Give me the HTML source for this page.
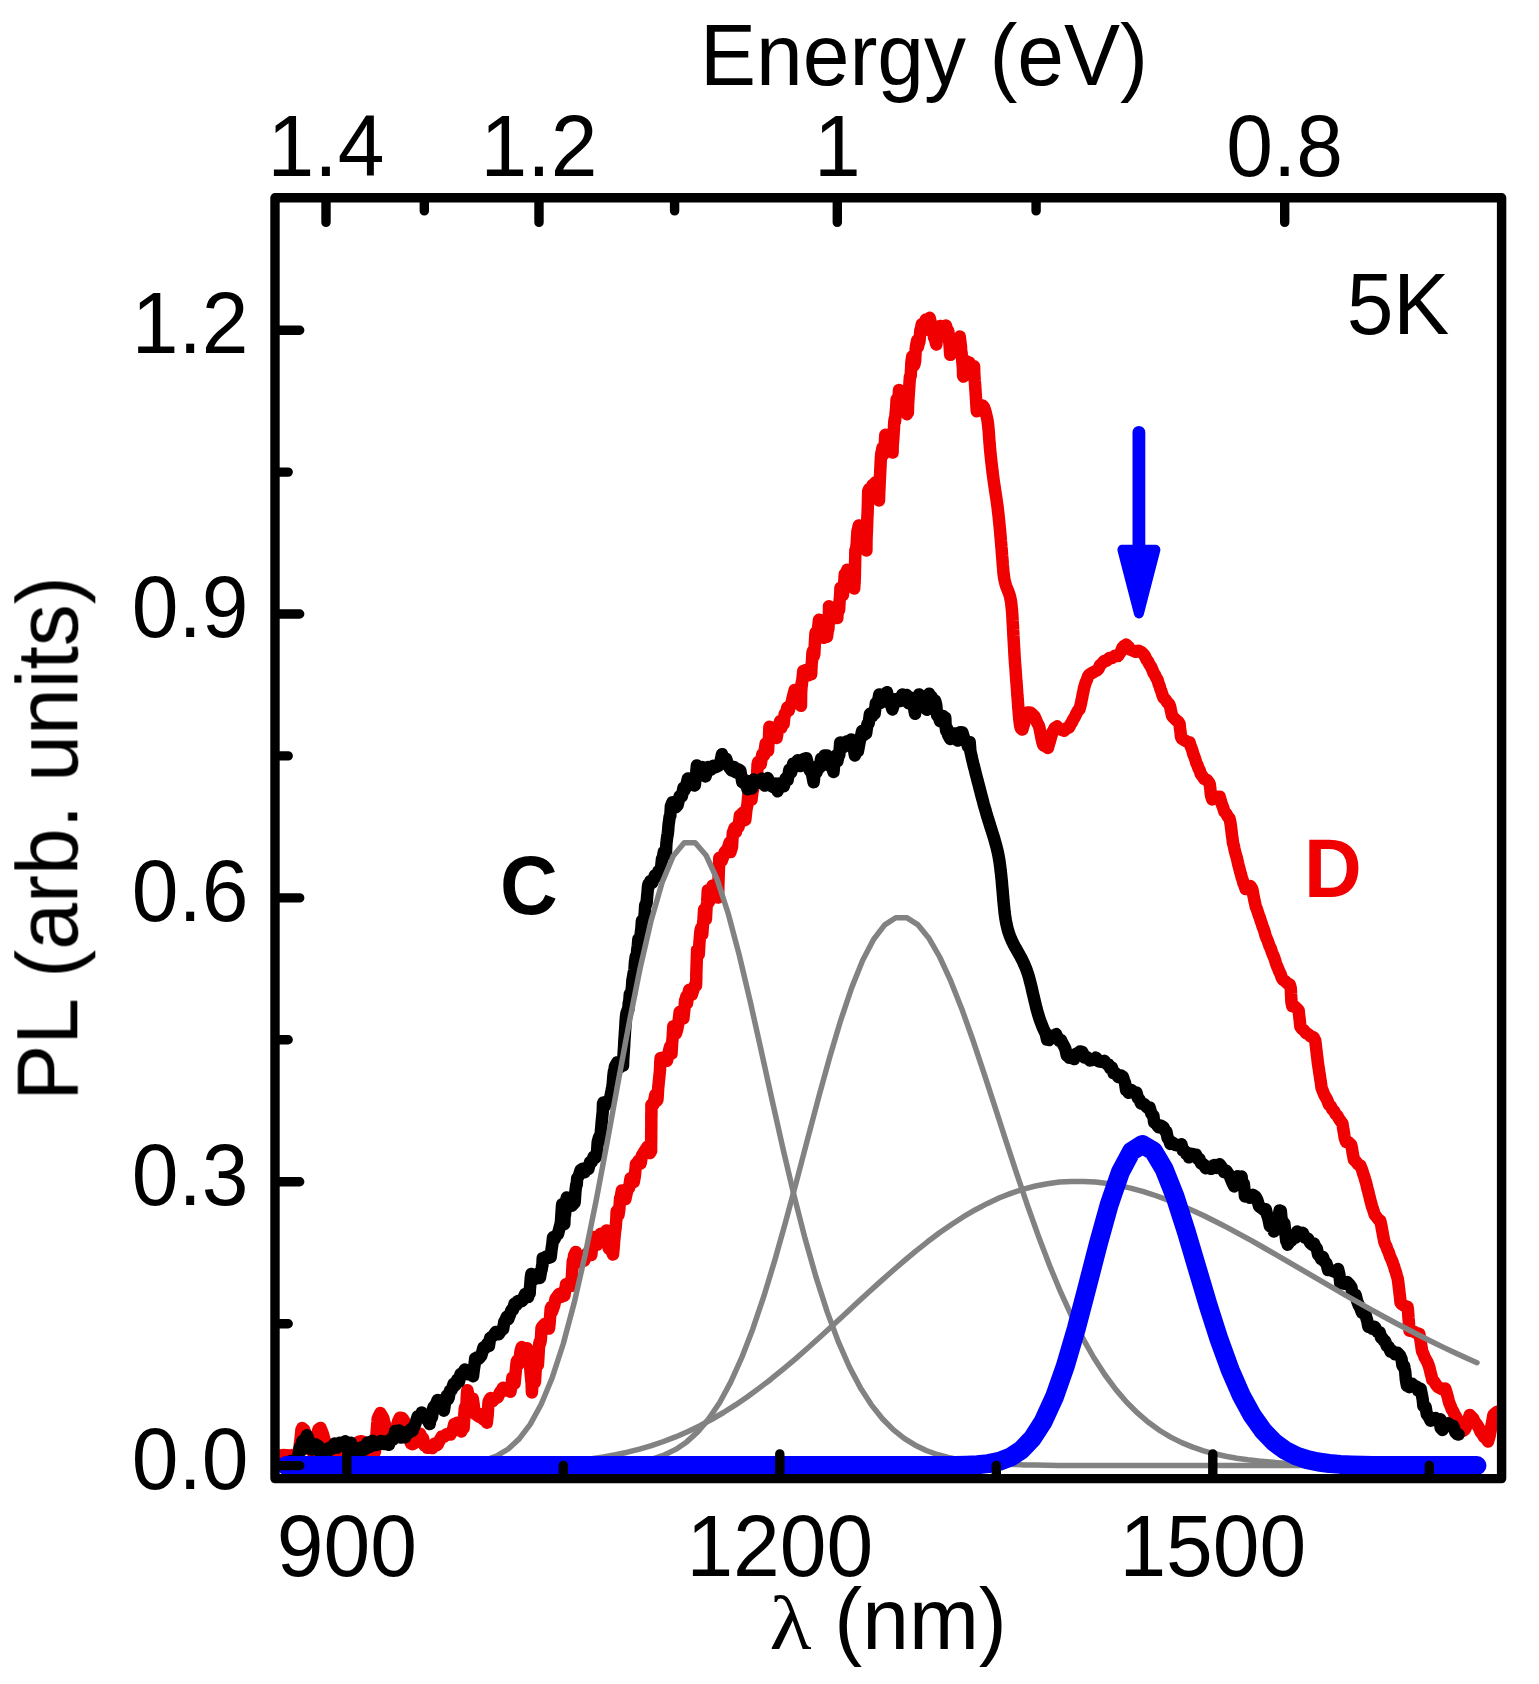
<!DOCTYPE html>
<html><head><meta charset="utf-8"><title>PL spectra</title>
<style>html,body{margin:0;padding:0;background:#fff}svg{display:block}</style></head>
<body>
<svg width="1539" height="1684" viewBox="0 0 1539 1684">
<rect width="1539" height="1684" fill="#fff"/>
<defs><filter id="soft" x="0" y="0" width="1539" height="1684" filterUnits="userSpaceOnUse"><feGaussianBlur stdDeviation="0.6"/></filter></defs>
<g filter="url(#soft)">
<g fill="none" stroke-linejoin="round" stroke-linecap="round">
<path d="M280.1 1455.5 L283.1 1455.1 L286.1 1455.2 L289.1 1455.7 L292.1 1455.2 L295.1 1454.5 L297.9 1454.2 L299.1 1451.0 L299.5 1448.5 L299.8 1445.4 L300.1 1442.3 L300.5 1439.4 L300.8 1436.4 L301.1 1433.5 L301.4 1430.1 L302.2 1428.1 L304.1 1429.6 L305.1 1432.4 L306.1 1435.7 L307.0 1438.2 L307.8 1441.5 L308.7 1443.9 L309.7 1446.7 L310.6 1449.9 L312.0 1451.5 L314.9 1452.2 L316.0 1449.3 L316.3 1446.8 L316.6 1443.7 L317.0 1440.8 L317.3 1437.8 L317.6 1435.0 L317.9 1431.8 L318.5 1429.3 L320.5 1427.9 L321.7 1431.0 L322.8 1433.6 L323.7 1436.9 L324.6 1440.0 L325.5 1442.4 L326.4 1445.7 L327.2 1448.1 L328.0 1451.5 L329.9 1452.8 L332.8 1454.3 L335.8 1454.1 L338.8 1453.5 L341.8 1453.9 L344.4 1452.8 L346.7 1450.3 L349.0 1449.0 L351.4 1446.7 L353.7 1445.4 L356.2 1443.7 L358.9 1441.6 L361.6 1441.2 L363.8 1442.2 L365.1 1444.9 L366.4 1447.3 L367.8 1449.7 L369.1 1453.0 L371.1 1454.2 L373.9 1454.3 L375.0 1451.3 L375.2 1448.3 L375.5 1445.5 L375.7 1442.5 L376.0 1439.5 L376.2 1436.6 L376.5 1433.6 L376.7 1430.6 L377.0 1427.6 L377.2 1424.6 L377.5 1421.5 L377.7 1418.8 L378.7 1416.2 L380.3 1413.0 L382.1 1416.3 L383.3 1418.3 L384.1 1421.5 L384.9 1424.1 L385.8 1427.3 L386.6 1429.8 L387.7 1433.1 L389.0 1435.6 L390.2 1439.0 L392.5 1438.0 L394.3 1435.1 L395.3 1432.8 L396.1 1429.4 L396.8 1426.8 L397.6 1423.5 L398.3 1421.0 L399.9 1417.7 L402.1 1417.9 L403.8 1420.2 L404.9 1422.7 L405.7 1425.9 L406.5 1428.4 L407.3 1431.7 L408.2 1434.2 L409.1 1437.4 L410.0 1440.1 L410.9 1443.5 L412.4 1444.1 L414.8 1442.9 L417.0 1440.5 L418.5 1438.6 L420.1 1433.7 L421.6 1437.2 L423.1 1438.4 L424.5 1445.6 L425.9 1445.0 L427.4 1447.8 L429.7 1447.5 L432.3 1448.0 L434.9 1443.5 L437.4 1444.9 L439.7 1440.2 L441.8 1436.6 L444.0 1436.8 L446.2 1434.3 L448.3 1433.9 L450.5 1434.5 L452.6 1430.7 L454.3 1424.0 L455.7 1423.6 L457.2 1422.8 L458.3 1422.7 L459.3 1430.2 L460.3 1428.0 L461.3 1431.4 L462.4 1426.9 L462.8 1425.8 L463.2 1427.2 L463.6 1428.0 L464.0 1422.4 L464.4 1413.4 L464.8 1408.5 L465.3 1406.8 L465.7 1407.9 L466.1 1407.4 L466.5 1403.3 L466.9 1394.9 L467.3 1390.2 L467.7 1391.9 L469.0 1397.8 L469.9 1403.1 L470.9 1403.8 L471.8 1399.4 L472.7 1398.4 L473.7 1405.0 L474.7 1413.7 L476.9 1415.1 L479.1 1416.7 L481.3 1414.2 L483.5 1419.6 L485.1 1415.7 L486.0 1418.5 L486.8 1422.7 L487.7 1414.7 L488.5 1402.4 L489.4 1399.8 L490.5 1398.1 L492.8 1401.0 L495.2 1398.2 L497.7 1397.5 L500.1 1392.2 L501.6 1390.3 L503.1 1387.7 L505.4 1390.3 L508.0 1389.0 L510.5 1391.7 L511.6 1384.1 L512.4 1377.5 L513.1 1378.8 L513.8 1381.8 L514.6 1383.5 L515.3 1375.9 L516.0 1368.4 L516.7 1361.8 L517.5 1360.3 L518.3 1364.7 L519.0 1363.2 L519.8 1357.3 L520.6 1350.9 L521.7 1347.1 L524.1 1350.8 L527.0 1348.2 L528.5 1355.1 L528.8 1356.0 L529.1 1356.2 L529.4 1359.2 L529.6 1362.2 L529.9 1365.1 L530.2 1368.1 L530.5 1371.1 L530.7 1374.1 L531.0 1377.1 L531.3 1380.1 L531.6 1383.2 L531.9 1392.4 L532.2 1388.2 L532.8 1382.3 L533.4 1377.7 L533.9 1376.7 L534.4 1382.6 L534.9 1382.3 L535.4 1374.9 L535.9 1364.6 L536.4 1355.2 L536.9 1358.3 L537.4 1363.3 L537.9 1364.8 L538.4 1357.4 L538.8 1349.8 L539.3 1343.6 L539.7 1341.7 L540.1 1343.3 L540.6 1341.3 L541.0 1337.5 L541.5 1328.1 L542.2 1326.7 L544.5 1324.2 L547.1 1325.4 L549.0 1328.6 L549.6 1323.2 L550.2 1315.3 L550.7 1308.6 L551.3 1307.1 L551.9 1311.8 L552.6 1310.1 L554.0 1306.0 L555.7 1298.5 L557.5 1296.3 L559.2 1293.8 L560.9 1296.9 L562.7 1292.2 L564.4 1295.6 L566.0 1284.3 L567.7 1285.6 L569.4 1282.3 L571.0 1281.0 L571.6 1285.9 L571.9 1275.9 L572.3 1270.2 L572.7 1262.0 L573.1 1259.9 L573.5 1265.4 L574.0 1255.7 L575.8 1251.9 L578.6 1261.9 L581.5 1257.8 L584.2 1260.7 L586.8 1253.6 L589.4 1254.6 L591.3 1255.0 L592.4 1243.5 L593.5 1237.0 L594.6 1242.0 L595.8 1241.1 L596.9 1244.8 L598.1 1239.5 L600.6 1233.7 L603.6 1238.8 L606.5 1230.5 L607.6 1233.4 L608.7 1248.6 L609.8 1245.5 L610.8 1244.1 L611.9 1251.5 L613.0 1254.5 L613.5 1249.1 L613.8 1245.8 L614.1 1241.4 L614.5 1237.3 L614.8 1234.1 L615.1 1231.2 L615.4 1229.5 L615.7 1226.6 L616.0 1223.5 L616.3 1219.7 L616.7 1211.1 L617.0 1213.3 L617.7 1210.7 L618.5 1214.8 L619.3 1209.6 L620.1 1198.2 L620.9 1196.3 L621.9 1190.4 L623.5 1191.4 L625.4 1199.1 L627.2 1190.4 L629.1 1187.8 L630.5 1178.3 L631.6 1181.0 L632.7 1178.2 L633.8 1181.9 L634.9 1175.6 L636.0 1163.7 L637.1 1164.5 L638.3 1160.9 L639.5 1163.1 L640.7 1163.3 L641.9 1155.5 L643.2 1153.6 L645.2 1150.3 L647.6 1146.5 L649.9 1153.0 L651.1 1151.0 L651.1 1144.0 L651.2 1139.8 L651.2 1136.8 L651.2 1133.8 L651.2 1130.8 L651.3 1127.8 L651.3 1124.8 L651.3 1121.8 L651.3 1118.8 L651.3 1115.8 L651.4 1112.8 L651.4 1116.9 L651.4 1104.6 L653.4 1104.4 L655.5 1094.4 L656.9 1100.8 L657.4 1099.8 L657.7 1096.5 L658.0 1090.9 L658.2 1088.0 L658.5 1085.0 L658.8 1082.0 L659.1 1079.0 L659.4 1076.0 L659.7 1073.0 L660.0 1070.0 L660.3 1062.4 L660.6 1058.0 L661.6 1063.7 L664.3 1057.3 L667.0 1060.8 L668.9 1051.4 L669.6 1048.3 L670.2 1046.4 L670.8 1053.8 L671.5 1053.8 L672.1 1043.1 L672.7 1037.1 L673.3 1026.2 L674.0 1031.6 L674.8 1029.9 L675.9 1033.8 L677.2 1029.5 L678.4 1022.8 L679.7 1011.8 L680.9 1011.8 L682.1 1012.3 L683.4 1018.3 L684.4 1008.9 L685.1 1000.5 L685.8 998.8 L686.4 996.2 L687.1 1003.0 L687.7 995.6 L689.2 989.8 L691.8 994.8 L694.5 986.0 L696.0 985.7 L696.1 984.2 L696.2 980.1 L696.3 977.1 L696.3 974.1 L696.4 971.1 L696.5 968.1 L696.6 965.1 L696.7 962.1 L696.8 959.1 L696.9 956.1 L697.1 949.9 L697.6 949.6 L698.2 950.9 L698.8 954.2 L699.4 943.1 L700.0 935.7 L700.5 930.7 L701.1 928.1 L701.7 930.1 L702.3 934.1 L702.9 924.9 L703.5 919.8 L704.1 909.3 L704.7 914.0 L705.3 913.6 L705.9 919.1 L706.5 907.9 L707.2 901.9 L707.8 890.2 L708.4 896.1 L709.1 901.6 L709.7 896.4 L710.3 892.5 L712.6 885.6 L714.7 894.0 L716.8 889.9 L718.1 897.6 L718.2 896.3 L718.3 887.0 L718.4 884.0 L718.5 881.0 L718.6 878.0 L718.7 875.0 L718.8 872.0 L718.9 869.0 L719.0 866.0 L719.1 863.0 L719.2 860.6 L719.3 857.8 L721.8 860.7 L724.7 852.2 L727.6 849.0 L728.8 845.3 L729.6 842.5 L730.4 852.1 L731.2 849.4 L732.0 847.0 L732.8 832.9 L733.5 831.0 L734.6 827.9 L735.9 831.9 L737.2 825.6 L738.6 826.9 L739.9 815.5 L741.3 817.9 L742.6 812.8 L744.0 820.3 L745.3 819.8 L746.4 809.5 L747.4 805.0 L748.4 794.4 L749.4 798.6 L750.4 796.7 L751.5 799.7 L752.5 791.8 L753.5 787.4 L754.5 778.8 L755.5 781.8 L756.0 781.1 L756.5 781.7 L757.1 774.5 L757.6 764.3 L758.1 762.0 L758.7 762.9 L759.4 761.7 L760.7 764.5 L762.3 754.2 L764.0 755.3 L765.7 743.5 L767.0 745.7 L767.6 744.9 L768.1 750.8 L768.5 741.7 L769.0 736.9 L769.4 726.8 L769.9 733.5 L771.8 732.9 L774.1 727.5 L776.6 738.0 L778.0 729.6 L779.1 725.9 L780.2 720.9 L781.3 727.9 L782.5 723.6 L783.6 724.0 L784.7 713.7 L786.0 712.9 L787.4 707.3 L788.7 710.7 L790.1 705.2 L791.4 703.8 L792.7 697.6 L794.7 689.9 L797.3 701.2 L800.0 697.7 L801.0 705.8 L801.1 695.3 L801.2 691.9 L801.4 688.9 L801.5 685.9 L801.6 682.9 L801.7 686.0 L801.9 684.1 L803.3 670.9 L806.1 670.1 L808.8 675.3 L810.8 668.1 L811.2 674.3 L811.6 664.6 L812.0 661.3 L812.4 653.3 L812.8 651.2 L813.2 656.7 L813.7 656.0 L814.3 654.1 L814.9 642.7 L815.5 632.8 L816.0 636.1 L816.6 634.9 L817.2 638.3 L817.8 630.0 L818.4 625.3 L819.0 619.8 L820.5 627.5 L822.1 625.0 L823.7 637.8 L825.3 630.9 L827.0 636.8 L828.3 626.5 L828.4 629.1 L828.5 626.7 L828.6 623.7 L828.8 620.7 L828.9 617.7 L829.0 606.2 L829.1 612.7 L831.4 608.8 L833.8 618.4 L836.2 614.0 L837.3 617.9 L837.8 607.2 L838.2 604.8 L838.7 607.5 L839.1 609.9 L839.6 601.0 L840.0 596.9 L840.5 587.7 L841.1 592.1 L842.0 590.5 L842.9 594.9 L843.9 587.2 L844.8 574.0 L845.8 575.2 L847.3 569.7 L848.6 582.3 L850.0 582.4 L851.3 586.4 L852.7 586.8 L854.2 588.6 L854.6 581.1 L854.6 583.2 L854.7 580.2 L854.8 577.2 L854.9 574.2 L854.9 571.2 L855.0 568.2 L855.1 565.2 L855.1 562.2 L855.2 559.2 L855.3 556.2 L855.3 553.2 L855.4 550.2 L855.5 549.8 L856.0 550.4 L856.7 543.3 L857.4 531.5 L858.1 529.0 L858.8 525.4 L860.1 533.9 L861.1 534.8 L862.1 543.0 L863.2 535.1 L864.2 540.1 L865.2 539.5 L866.3 542.3 L866.4 550.6 L866.5 540.4 L866.6 537.4 L866.7 534.4 L866.9 531.4 L867.0 528.4 L867.1 525.4 L867.2 522.4 L867.3 519.4 L867.4 516.4 L867.6 513.4 L867.7 510.4 L867.8 507.4 L867.9 504.4 L868.0 499.5 L868.2 491.4 L869.1 489.1 L870.3 495.8 L871.4 490.0 L872.7 484.9 L873.9 491.6 L875.1 482.6 L876.3 486.0 L877.5 492.5 L878.8 492.2 L879.0 500.6 L879.2 493.6 L879.3 490.6 L879.5 487.6 L879.6 484.6 L879.7 481.6 L879.9 478.6 L880.0 475.6 L880.2 472.6 L880.3 469.6 L880.5 466.6 L880.6 463.6 L880.7 461.1 L881.2 454.1 L881.8 451.3 L882.5 447.8 L883.2 454.7 L883.9 450.8 L884.6 447.5 L885.3 434.8 L887.1 440.1 L888.6 437.8 L890.1 450.0 L891.6 446.1 L892.6 452.5 L892.8 439.9 L893.0 442.8 L893.2 439.8 L893.4 436.9 L893.6 433.9 L893.8 430.9 L894.0 427.9 L894.1 424.9 L894.3 421.9 L894.7 418.8 L895.1 421.2 L895.6 413.0 L896.1 408.8 L896.6 399.3 L897.1 403.7 L897.5 403.8 L898.0 409.1 L898.5 399.8 L899.0 390.0 L899.5 392.5 L900.6 394.0 L901.5 393.0 L902.4 404.5 L903.3 403.9 L904.2 397.8 L905.1 397.1 L906.0 403.4 L906.9 414.2 L907.7 411.7 L907.9 412.3 L908.1 404.0 L908.3 401.0 L908.5 398.0 L908.7 395.0 L908.9 392.0 L909.1 389.0 L909.3 386.0 L909.5 383.0 L909.7 380.0 L909.9 377.0 L910.1 376.9 L910.7 375.9 L911.4 362.4 L912.2 356.5 L912.9 362.2 L913.6 365.8 L914.3 364.7 L915.1 361.4 L915.8 347.7 L916.5 343.7 L917.2 340.3 L918.0 346.7 L918.7 343.4 L919.5 341.1 L920.3 330.6 L921.1 328.0 L921.8 324.1 L922.6 330.3 L923.9 330.2 L925.8 319.6 L927.8 320.6 L929.6 317.8 L930.4 321.2 L931.0 328.1 L931.6 329.8 L932.2 332.0 L932.8 325.4 L933.4 328.1 L934.0 337.4 L934.6 337.7 L936.3 344.5 L937.5 334.1 L938.7 334.3 L940.3 325.9 L943.0 333.0 L945.9 325.5 L948.0 333.1 L948.3 331.2 L948.6 334.5 L948.8 337.5 L949.1 340.4 L949.4 343.4 L949.7 346.4 L949.9 350.4 L950.2 354.8 L950.6 352.6 L951.5 353.2 L952.3 351.2 L953.2 352.8 L954.1 349.3 L956.9 347.9 L959.7 336.6 L961.0 347.0 L961.3 355.0 L961.6 352.6 L961.8 355.6 L962.1 358.6 L962.3 361.6 L962.6 364.6 L962.9 367.6 L963.1 375.5 L963.4 376.6 L964.9 371.8 L966.2 361.2 L967.6 369.5 L969.3 362.5 L971.7 370.9 L973.6 374.6 L974.1 366.3 L974.3 374.5 L974.5 377.5 L974.7 380.5 L975.0 383.5 L975.2 386.5 L975.4 389.5 L975.6 392.5 L975.8 395.5 L976.0 398.5 L976.2 402.4 L976.8 411.2 L979.8 406.7 L982.7 405.6 L984.0 407.3 L985.0 410.1 L985.8 413.0 L986.5 415.9 L987.2 418.9 L987.7 421.8 L988.1 424.8 L988.4 427.8 L988.7 430.8 L988.9 433.7 L989.1 436.7 L989.3 439.7 L989.5 442.7 L989.8 445.7 L990.0 448.7 L990.3 451.7 L990.6 454.7 L990.9 457.7 L991.2 460.6 L991.6 463.6 L991.9 466.6 L992.3 469.6 L992.6 472.6 L993.0 475.5 L993.4 478.5 L993.8 481.5 L994.2 484.5 L994.7 487.4 L995.1 490.4 L995.6 493.4 L996.0 496.3 L996.5 499.3 L996.9 502.3 L997.3 505.2 L997.7 508.2 L998.0 511.2 L998.4 514.2 L998.7 517.1 L999.0 520.1 L999.3 523.1 L999.6 526.1 L999.9 529.1 L1000.2 532.1 L1000.4 535.1 L1000.7 538.1 L1000.9 541.0 L1001.2 544.0 L1001.4 547.0 L1001.7 550.0 L1001.9 553.0 L1002.1 556.0 L1002.4 559.0 L1002.6 562.0 L1002.8 565.0 L1003.1 568.0 L1003.3 570.9 L1003.6 573.9 L1004.0 576.9 L1004.5 579.9 L1005.2 582.8 L1006.0 585.7 L1007.1 588.5 L1008.2 591.2 L1009.3 594.1 L1010.1 596.9 L1010.7 599.9 L1011.2 602.8 L1011.5 605.8 L1011.8 608.8 L1012.1 611.8 L1012.3 614.8 L1012.5 617.8 L1012.6 620.8 L1012.8 623.8 L1013.0 626.8 L1013.1 629.8 L1013.3 632.8 L1013.4 635.8 L1013.6 638.8 L1013.8 641.7 L1013.9 644.7 L1014.1 647.7 L1014.3 650.7 L1014.4 653.7 L1014.6 656.7 L1014.8 659.7 L1015.0 662.7 L1015.2 665.7 L1015.5 668.7 L1015.7 671.7 L1015.9 674.7 L1016.1 677.7 L1016.3 680.7 L1016.6 683.7 L1016.8 686.6 L1017.0 689.6 L1017.2 692.6 L1017.4 695.6 L1017.7 698.6 L1017.9 701.6 L1018.1 704.6 L1018.3 707.6 L1018.6 710.6 L1018.8 713.6 L1019.1 716.6 L1019.3 719.5 L1019.7 722.5 L1020.1 725.5 L1020.9 728.4 L1022.4 729.6 L1023.3 726.0 L1024.1 723.8 L1024.9 720.2 L1025.7 717.8 L1026.5 714.2 L1027.4 712.5 L1030.3 712.5 L1032.9 714.8 L1034.6 716.6 L1035.9 719.4 L1037.2 722.8 L1038.5 724.8 L1039.4 727.7 L1040.0 731.0 L1040.6 733.3 L1041.2 736.9 L1041.8 739.6 L1042.3 741.8 L1043.4 745.3 L1045.8 746.5 L1048.0 747.9 L1048.9 744.1 L1049.7 741.9 L1050.6 738.4 L1051.4 735.9 L1052.3 732.5 L1053.4 730.6 L1054.7 728.0 L1057.1 726.5 L1059.4 729.1 L1061.7 729.9 L1064.3 730.7 L1066.9 728.1 L1069.2 727.4 L1070.7 723.9 L1072.1 722.1 L1073.4 719.1 L1074.8 717.0 L1076.3 713.7 L1077.9 710.8 L1079.5 709.1 L1080.4 705.6 L1081.0 703.3 L1081.6 699.9 L1082.2 697.5 L1082.8 693.8 L1083.4 691.5 L1084.0 688.1 L1084.7 685.9 L1085.7 682.4 L1086.8 680.0 L1088.0 676.4 L1089.2 674.8 L1091.5 673.3 L1094.5 671.6 L1097.1 670.2 L1098.5 668.7 L1100.0 665.2 L1101.7 663.8 L1104.2 661.0 L1106.7 660.7 L1109.3 657.9 L1112.0 657.9 L1114.9 655.8 L1117.8 656.1 L1119.8 653.2 L1121.2 651.2 L1122.5 647.6 L1123.8 646.3 L1126.2 644.7 L1128.3 646.6 L1130.4 649.7 L1132.6 650.5 L1135.6 651.8 L1138.6 650.7 L1141.6 652.3 L1143.5 654.2 L1145.0 656.1 L1146.5 659.6 L1148.0 661.3 L1149.5 664.6 L1150.9 666.5 L1152.2 669.3 L1153.6 673.0 L1154.9 674.8 L1156.3 678.0 L1157.6 679.9 L1158.6 683.7 L1159.5 685.8 L1160.4 689.0 L1161.3 691.2 L1162.2 694.2 L1163.5 697.7 L1165.4 699.5 L1167.4 702.5 L1169.2 704.1 L1170.2 706.8 L1170.8 710.3 L1171.4 712.7 L1172.1 716.1 L1173.5 717.6 L1176.0 720.0 L1178.5 721.9 L1179.6 723.9 L1179.9 727.7 L1180.3 730.2 L1180.6 732.8 L1180.9 736.5 L1181.8 738.6 L1184.4 740.2 L1187.3 741.8 L1189.5 742.3 L1190.5 745.8 L1191.4 747.8 L1192.4 750.6 L1193.3 754.1 L1194.3 756.5 L1195.3 759.3 L1196.3 762.9 L1197.4 764.9 L1198.5 768.3 L1199.6 770.2 L1200.7 773.8 L1202.1 775.7 L1204.3 778.9 L1206.7 779.8 L1208.9 782.5 L1209.8 784.4 L1210.2 788.0 L1210.5 790.7 L1210.8 794.1 L1211.2 796.2 L1212.3 799.4 L1215.0 797.3 L1217.7 796.8 L1219.7 796.8 L1220.7 800.5 L1221.5 803.4 L1222.4 805.6 L1223.3 808.0 L1224.4 811.7 L1226.1 813.4 L1227.9 816.7 L1229.5 818.6 L1230.3 822.2 L1230.7 824.6 L1231.1 828.0 L1231.5 830.8 L1231.8 834.0 L1232.2 836.7 L1232.6 839.3 L1232.9 842.8 L1233.7 845.2 L1234.4 848.8 L1235.1 851.8 L1235.9 854.8 L1236.6 857.1 L1237.3 859.9 L1238.0 863.3 L1238.8 866.3 L1239.5 869.1 L1240.2 871.9 L1241.0 874.3 L1241.7 877.5 L1242.6 879.8 L1243.5 883.4 L1244.5 885.3 L1245.6 888.9 L1247.9 888.9 L1250.4 886.1 L1252.2 888.9 L1252.8 891.4 L1253.3 895.0 L1253.9 897.5 L1254.5 901.0 L1255.1 903.2 L1255.8 906.7 L1256.8 909.0 L1257.7 911.7 L1258.7 914.9 L1259.7 917.2 L1260.7 920.7 L1261.6 923.1 L1262.6 926.5 L1263.6 928.9 L1264.6 931.9 L1265.5 935.4 L1266.5 938.1 L1267.6 940.5 L1268.6 943.3 L1269.7 946.6 L1270.8 948.6 L1271.8 951.9 L1272.9 954.6 L1273.9 956.8 L1275.0 960.1 L1276.0 963.3 L1277.1 966.3 L1278.1 968.5 L1279.3 971.7 L1280.5 973.8 L1281.6 977.4 L1282.8 979.6 L1285.1 981.2 L1287.5 983.5 L1289.8 984.5 L1290.7 988.0 L1290.9 990.6 L1291.0 993.8 L1291.2 996.8 L1291.3 999.8 L1291.5 1002.5 L1292.3 1006.1 L1294.9 1006.6 L1297.5 1009.2 L1298.7 1010.5 L1299.0 1014.0 L1299.3 1017.0 L1299.7 1020.0 L1300.0 1023.4 L1300.4 1026.6 L1302.0 1028.9 L1304.0 1030.3 L1305.9 1033.0 L1308.2 1034.1 L1310.9 1036.5 L1313.5 1037.2 L1315.2 1040.5 L1315.5 1042.8 L1315.9 1046.0 L1316.2 1048.8 L1316.6 1051.9 L1316.9 1054.9 L1317.3 1057.7 L1317.6 1060.6 L1318.0 1063.9 L1318.4 1066.5 L1318.9 1069.6 L1319.3 1072.8 L1319.8 1075.1 L1320.2 1078.8 L1320.7 1081.4 L1321.1 1084.4 L1321.6 1088.1 L1322.5 1090.2 L1323.8 1093.6 L1325.1 1096.4 L1326.3 1098.2 L1327.6 1101.0 L1329.0 1104.7 L1330.7 1106.2 L1332.3 1109.3 L1334.0 1111.1 L1335.7 1114.2 L1337.4 1115.8 L1339.2 1119.2 L1341.0 1121.7 L1342.4 1123.4 L1342.9 1126.8 L1343.4 1129.9 L1343.9 1132.6 L1344.4 1135.9 L1344.9 1138.4 L1346.1 1141.8 L1348.6 1142.4 L1351.0 1144.6 L1351.7 1147.0 L1352.2 1150.1 L1352.8 1153.7 L1353.3 1156.2 L1353.9 1159.8 L1355.8 1161.4 L1358.1 1164.3 L1360.2 1165.3 L1361.6 1168.6 L1362.4 1170.8 L1363.3 1174.1 L1364.2 1176.3 L1365.1 1179.8 L1366.0 1182.4 L1366.7 1185.2 L1367.4 1188.8 L1368.2 1191.2 L1368.9 1194.4 L1369.6 1196.9 L1370.3 1200.2 L1371.1 1202.8 L1371.9 1206.2 L1372.8 1208.5 L1373.8 1211.8 L1374.7 1214.6 L1376.0 1216.3 L1378.3 1219.4 L1380.2 1220.7 L1381.0 1224.1 L1381.5 1226.4 L1382.0 1229.9 L1382.6 1232.3 L1383.1 1235.8 L1383.7 1238.3 L1384.2 1241.2 L1385.3 1244.5 L1386.4 1246.4 L1387.6 1250.1 L1388.7 1252.2 L1389.8 1255.7 L1391.0 1258.5 L1392.1 1260.9 L1393.2 1264.1 L1394.1 1266.5 L1395.0 1269.9 L1395.9 1272.1 L1396.8 1275.6 L1397.6 1278.1 L1398.1 1281.1 L1398.5 1284.3 L1398.8 1287.2 L1399.2 1290.0 L1399.5 1293.1 L1399.9 1295.9 L1400.2 1298.8 L1400.5 1302.6 L1401.8 1304.1 L1404.6 1305.8 L1407.5 1306.8 L1407.8 1308.9 L1408.1 1312.0 L1408.3 1315.0 L1408.5 1318.0 L1408.8 1321.0 L1409.0 1324.0 L1409.2 1327.6 L1409.5 1330.7 L1411.2 1329.9 L1414.0 1331.8 L1416.7 1333.2 L1419.2 1333.8 L1420.0 1337.2 L1420.4 1339.6 L1420.9 1343.1 L1421.3 1345.6 L1421.7 1348.8 L1422.1 1351.2 L1423.4 1353.9 L1424.7 1357.4 L1426.0 1359.6 L1427.4 1362.2 L1428.7 1365.6 L1429.4 1367.7 L1430.2 1371.1 L1430.9 1374.1 L1431.6 1376.4 L1432.3 1379.9 L1434.0 1381.4 L1435.9 1384.4 L1437.9 1387.0 L1439.8 1388.0 L1442.6 1389.4 L1445.2 1388.4 L1446.4 1392.0 L1447.1 1394.6 L1447.8 1397.1 L1448.6 1400.5 L1449.4 1403.3 L1450.5 1405.7 L1451.9 1409.5 L1453.2 1411.3 L1454.5 1414.6 L1455.9 1416.5 L1457.5 1419.6 L1459.2 1421.3 L1460.9 1424.8 L1462.3 1427.0 L1463.6 1430.6 L1464.9 1429.3 L1465.9 1427.2 L1466.9 1423.8 L1467.8 1421.8 L1468.8 1418.0 L1469.7 1415.0 L1471.6 1416.9 L1473.1 1418.4 L1474.6 1421.7 L1476.1 1423.5 L1477.6 1425.6 L1479.1 1428.3 L1480.7 1432.1 L1482.2 1433.8 L1484.1 1437.0 L1486.1 1438.5 L1488.1 1441.5 L1488.9 1438.2 L1489.5 1436.4 L1490.1 1433.1 L1490.6 1430.5 L1491.2 1427.4 L1491.8 1423.9 L1492.3 1421.5 L1492.9 1418.2 L1493.4 1414.9 L1495.1 1413.4 L1496.9 1411.8" stroke="#f00400" stroke-width="12.5"/>
<path d="M285.6 1464.4 L288.2 1467.6 L290.9 1460.9 L293.6 1466.1 L296.2 1462.7 L298.3 1455.7 L299.0 1452.0 L299.8 1447.2 L300.6 1451.0 L301.4 1450.4 L302.2 1441.2 L304.3 1442.5 L307.0 1435.3 L308.8 1442.2 L310.2 1442.3 L311.6 1449.6 L313.4 1449.1 L316.0 1444.6 L318.6 1446.1 L321.0 1454.5 L323.7 1449.5 L326.2 1454.8 L328.9 1447.9 L331.7 1449.0 L334.6 1443.5 L337.2 1447.6 L339.7 1442.8 L342.5 1445.7 L345.2 1441.3 L348.0 1447.0 L350.8 1442.8 L353.5 1450.4 L356.5 1448.2 L359.5 1454.2 L362.3 1446.9 L364.9 1449.4 L367.5 1442.6 L370.0 1446.7 L372.5 1440.7 L375.1 1445.0 L378.0 1444.6 L380.9 1440.9 L383.8 1444.1 L386.6 1441.2 L388.9 1444.8 L390.4 1440.2 L391.9 1438.1 L393.4 1439.2 L395.3 1430.9 L397.3 1434.0 L399.1 1430.4 L400.7 1437.6 L402.5 1435.8 L405.1 1437.3 L407.3 1431.8 L409.1 1432.6 L410.8 1429.1 L412.5 1430.7 L414.2 1426.2 L415.9 1422.2 L417.7 1416.4 L419.5 1418.0 L421.7 1412.5 L424.3 1416.8 L426.0 1415.8 L427.8 1420.4 L429.7 1424.0 L430.6 1416.2 L431.4 1418.4 L432.1 1416.7 L432.9 1409.3 L433.6 1407.0 L435.6 1405.0 L437.7 1400.0 L439.9 1405.0 L441.9 1407.8 L443.9 1410.7 L445.0 1403.0 L445.9 1399.5 L446.8 1395.5 L447.8 1399.5 L448.7 1397.6 L449.9 1390.8 L451.7 1389.8 L453.6 1383.8 L455.4 1385.1 L457.2 1379.7 L458.9 1381.9 L460.6 1373.9 L462.3 1374.3 L464.9 1369.4 L467.9 1374.0 L470.9 1372.8 L473.0 1376.2 L473.8 1369.6 L474.5 1365.2 L475.2 1358.4 L475.9 1360.2 L477.1 1357.4 L479.1 1358.4 L481.3 1355.6 L483.5 1347.3 L485.2 1348.0 L486.4 1345.1 L487.7 1343.1 L488.9 1346.0 L490.1 1337.9 L491.3 1337.3 L493.2 1335.6 L495.9 1331.9 L498.6 1334.3 L501.3 1330.2 L503.1 1329.4 L504.3 1321.7 L505.6 1319.8 L506.8 1316.6 L508.2 1319.2 L509.8 1315.1 L511.4 1310.0 L513.0 1309.6 L514.6 1303.6 L516.2 1305.3 L517.8 1301.1 L519.5 1301.9 L522.3 1301.0 L525.2 1293.9 L528.1 1297.1 L529.4 1290.0 L529.7 1293.5 L529.9 1288.8 L530.2 1285.8 L530.4 1282.8 L530.7 1279.4 L530.9 1276.9 L531.4 1273.9 L534.3 1279.3 L537.1 1274.0 L539.9 1278.0 L541.2 1270.4 L541.5 1270.0 L541.8 1268.7 L542.1 1265.7 L542.4 1266.1 L542.7 1258.2 L544.1 1257.8 L546.4 1256.6 L548.8 1257.7 L550.7 1257.1 L551.6 1248.9 L552.3 1244.5 L553.0 1237.3 L553.8 1240.1 L554.7 1238.8 L556.2 1235.4 L558.0 1234.1 L559.8 1226.7 L560.6 1224.0 L560.8 1222.6 L561.0 1220.7 L561.2 1217.8 L561.4 1214.8 L561.6 1211.8 L561.8 1208.8 L562.0 1205.8 L562.2 1204.2 L562.4 1204.8 L562.7 1205.3 L563.0 1206.2 L563.3 1209.1 L563.5 1212.1 L563.8 1215.1 L564.0 1222.8 L564.3 1224.1 L564.6 1215.4 L564.9 1215.7 L565.2 1212.8 L565.5 1209.8 L565.7 1209.1 L566.0 1205.7 L566.7 1197.6 L569.2 1198.9 L571.9 1205.7 L574.0 1203.3 L574.6 1202.9 L574.9 1198.8 L575.3 1193.0 L575.6 1189.8 L576.0 1186.7 L576.3 1184.5 L576.7 1184.7 L577.2 1178.3 L578.8 1175.9 L580.7 1169.9 L582.7 1168.8 L584.6 1172.2 L586.5 1167.8 L588.3 1169.2 L590.1 1162.1 L591.9 1161.8 L593.7 1156.6 L595.3 1157.8 L596.3 1155.5 L597.0 1152.6 L597.7 1142.2 L598.5 1139.1 L599.2 1136.9 L599.9 1140.5 L600.5 1137.1 L600.8 1133.0 L601.1 1129.1 L601.4 1126.1 L601.6 1123.1 L601.9 1120.1 L602.2 1117.1 L602.5 1114.1 L602.8 1111.1 L603.0 1103.5 L603.4 1102.5 L605.2 1105.8 L607.3 1101.6 L609.4 1101.7 L611.0 1093.8 L611.6 1090.5 L611.9 1088.6 L612.2 1088.3 L612.6 1085.4 L612.9 1082.5 L613.2 1077.9 L613.5 1074.9 L613.9 1071.7 L614.2 1070.4 L614.5 1070.1 L614.9 1066.6 L617.3 1062.3 L619.9 1067.3 L622.7 1063.9 L623.0 1065.6 L623.2 1059.9 L623.4 1056.9 L623.6 1053.9 L623.8 1050.9 L624.0 1047.9 L624.2 1044.9 L624.3 1041.9 L624.5 1038.9 L624.7 1035.9 L624.9 1032.9 L625.1 1029.9 L625.3 1026.9 L625.5 1023.9 L625.6 1021.3 L626.0 1016.4 L626.5 1013.1 L627.1 1012.0 L627.6 1009.8 L628.2 1010.1 L628.7 1003.4 L629.3 1000.9 L629.8 994.3 L630.4 993.3 L630.9 994.4 L631.5 990.4 L631.9 987.8 L632.4 980.2 L632.8 978.5 L633.2 976.1 L633.6 973.2 L634.1 973.1 L634.5 969.4 L634.9 962.6 L635.3 960.0 L635.8 956.5 L636.2 956.4 L636.7 957.2 L637.2 950.3 L637.8 945.9 L638.4 939.0 L639.0 939.0 L639.6 938.0 L640.2 940.1 L640.8 933.1 L641.4 928.4 L641.9 920.8 L642.5 922.5 L643.1 921.4 L643.7 920.7 L644.3 918.1 L644.8 912.0 L645.2 905.2 L645.7 905.6 L646.2 903.0 L646.6 902.9 L647.1 896.7 L647.5 893.0 L648.0 886.4 L648.5 884.0 L649.0 886.1 L650.2 881.2 L652.4 882.4 L654.7 875.8 L656.9 876.1 L658.5 870.9 L659.4 873.6 L660.2 869.5 L661.1 867.6 L662.0 858.8 L662.9 857.5 L663.8 851.9 L664.6 855.6 L665.5 851.8 L666.0 851.6 L666.4 843.6 L666.7 841.1 L667.1 837.5 L667.4 836.0 L667.8 833.7 L668.2 829.9 L668.5 825.2 L668.9 822.5 L669.2 820.3 L669.6 817.1 L669.9 815.9 L670.3 816.0 L670.9 806.0 L672.4 802.3 L674.1 806.9 L675.8 807.3 L677.6 805.2 L679.7 796.0 L681.8 796.5 L683.5 787.7 L684.3 790.2 L685.0 786.7 L685.7 787.9 L687.9 778.5 L690.6 778.8 L693.3 780.1 L694.4 785.6 L694.9 785.1 L695.4 779.1 L695.9 777.5 L696.4 770.6 L696.9 765.4 L699.5 775.7 L702.5 767.1 L705.5 776.4 L708.2 767.0 L710.8 769.7 L713.3 766.0 L715.7 767.1 L717.8 766.1 L719.9 764.6 L722.0 754.2 L724.1 763.1 L726.1 758.6 L728.0 764.7 L729.9 768.2 L731.8 770.6 L733.9 766.9 L736.0 772.4 L738.2 769.2 L740.3 770.5 L742.3 782.1 L744.0 783.2 L745.7 780.4 L747.5 789.3 L749.9 785.0 L751.9 788.4 L753.8 779.5 L756.4 782.2 L759.2 782.8 L761.9 778.7 L764.8 785.6 L767.7 778.1 L770.6 785.5 L773.4 787.1 L775.5 783.5 L777.6 791.2 L780.1 783.2 L782.0 785.9 L783.8 786.2 L785.7 778.3 L787.6 780.3 L789.4 769.6 L791.2 772.4 L793.2 763.6 L795.5 763.2 L797.9 760.2 L800.4 766.1 L803.4 759.2 L806.4 758.2 L808.6 766.7 L809.7 770.2 L810.8 771.8 L811.9 773.4 L813.6 782.2 L815.1 769.4 L816.6 772.5 L818.1 765.8 L819.6 767.7 L821.1 758.7 L822.6 762.6 L824.6 755.5 L826.8 755.5 L829.0 765.4 L831.1 762.5 L833.5 772.0 L834.5 760.7 L835.5 759.6 L836.4 755.1 L837.4 761.1 L838.3 756.8 L839.3 754.7 L840.2 742.4 L841.5 746.1 L843.9 747.0 L846.6 741.5 L849.2 743.4 L851.2 739.4 L853.1 744.0 L854.9 755.5 L856.8 750.2 L857.9 751.3 L858.8 746.3 L859.8 741.0 L860.7 737.6 L862.1 731.0 L863.4 735.3 L864.7 731.1 L866.1 733.6 L867.4 724.0 L868.7 723.4 L869.9 714.0 L871.1 713.2 L872.2 716.2 L873.4 712.0 L874.6 714.0 L875.9 703.1 L877.6 703.6 L879.3 694.5 L881.3 702.7 L883.4 697.3 L885.6 698.6 L887.0 692.2 L888.1 698.5 L889.1 699.4 L890.2 702.5 L892.4 709.5 L895.1 699.3 L897.7 699.3 L900.1 701.1 L902.3 694.5 L904.5 696.5 L906.7 695.0 L908.6 703.3 L909.8 697.4 L911.0 701.2 L912.3 700.4 L913.5 705.2 L915.1 713.8 L916.1 706.0 L917.1 699.8 L918.1 701.0 L919.1 694.4 L920.5 695.8 L921.3 696.0 L922.0 703.0 L922.8 697.4 L923.5 702.7 L924.3 706.7 L925.1 707.7 L926.0 707.9 L926.8 709.7 L927.6 700.0 L928.3 699.1 L929.1 693.7 L930.2 696.7 L931.5 696.6 L932.7 703.7 L933.9 703.4 L935.1 700.6 L936.2 704.9 L937.1 715.5 L938.0 713.8 L940.0 721.2 L943.0 716.0 L944.8 721.8 L945.3 717.9 L945.7 727.2 L946.2 731.0 L946.6 728.8 L947.1 728.4 L948.1 735.0 L950.4 739.1 L952.9 733.6 L955.4 733.4 L957.9 740.6 L960.2 732.2 L962.4 732.5 L964.8 740.6 L966.1 742.0 L967.0 742.2 L967.9 746.6 L968.8 744.5 L969.7 742.1 L970.4 751.4 L971.1 754.3 L971.7 757.3 L972.4 760.2 L973.1 763.1 L973.8 766.0 L974.6 768.9 L975.3 771.8 L976.0 774.7 L976.8 777.6 L977.5 780.5 L978.3 783.4 L979.1 786.3 L979.8 789.3 L980.6 792.2 L981.3 795.1 L982.1 798.0 L982.9 800.9 L983.6 803.8 L984.4 806.7 L985.3 809.5 L986.1 812.4 L986.9 815.3 L987.8 818.2 L988.7 821.0 L989.6 823.9 L990.5 826.8 L991.4 829.6 L992.3 832.5 L993.2 835.3 L994.1 838.2 L994.9 841.1 L995.7 844.0 L996.5 846.9 L997.2 849.8 L997.9 852.7 L998.5 855.7 L999.0 858.6 L999.5 861.6 L999.9 864.5 L1000.3 867.5 L1000.6 870.5 L1001.0 873.5 L1001.3 876.5 L1001.6 879.4 L1001.9 882.4 L1002.1 885.4 L1002.4 888.4 L1002.7 891.4 L1002.9 894.4 L1003.2 897.4 L1003.4 900.4 L1003.7 903.4 L1004.0 906.3 L1004.3 909.3 L1004.6 912.3 L1005.0 915.3 L1005.4 918.3 L1005.9 921.2 L1006.5 924.2 L1007.2 927.1 L1007.9 930.0 L1008.8 932.8 L1009.8 935.7 L1010.9 938.5 L1012.1 941.2 L1013.4 943.9 L1014.8 946.6 L1016.3 949.2 L1017.8 951.8 L1019.2 954.4 L1020.7 957.0 L1022.1 959.7 L1023.4 962.4 L1024.6 965.1 L1025.8 967.9 L1026.8 970.7 L1027.8 973.5 L1028.7 976.4 L1029.5 979.3 L1030.2 982.2 L1031.0 985.1 L1031.7 988.0 L1032.3 991.0 L1033.0 993.9 L1033.7 996.8 L1034.4 999.7 L1035.1 1002.6 L1035.8 1005.6 L1036.5 1008.5 L1037.3 1011.4 L1038.1 1014.2 L1039.0 1017.1 L1039.9 1020.0 L1041.0 1022.8 L1042.1 1025.6 L1043.2 1028.3 L1044.5 1031.1 L1045.8 1033.8 L1047.1 1039.6 L1049.0 1040.0 L1051.4 1036.0 L1053.7 1036.9 L1056.0 1034.1 L1057.6 1037.6 L1059.3 1040.8 L1060.9 1039.9 L1062.5 1043.3 L1064.1 1046.2 L1065.4 1049.0 L1066.8 1055.5 L1068.1 1055.3 L1069.4 1057.7 L1070.8 1057.6 L1072.6 1058.4 L1074.2 1059.1 L1075.7 1054.0 L1077.6 1053.4 L1079.9 1051.5 L1082.3 1051.9 L1084.6 1057.5 L1087.1 1057.3 L1090.0 1060.5 L1092.9 1059.9 L1095.9 1057.6 L1098.8 1061.3 L1101.6 1061.8 L1104.3 1060.8 L1106.9 1064.2 L1108.6 1064.5 L1110.2 1068.3 L1111.9 1067.6 L1113.6 1073.1 L1115.8 1073.5 L1118.4 1077.1 L1121.1 1075.6 L1122.9 1076.9 L1124.0 1080.2 L1125.0 1082.7 L1126.1 1090.0 L1127.1 1090.3 L1128.7 1092.8 L1131.6 1090.1 L1134.5 1092.7 L1136.4 1092.4 L1137.9 1098.1 L1139.4 1099.4 L1140.9 1103.4 L1142.3 1103.8 L1144.1 1103.9 L1146.9 1107.4 L1149.6 1107.4 L1151.2 1113.4 L1151.9 1114.2 L1152.6 1115.5 L1153.4 1115.7 L1154.1 1122.3 L1155.8 1123.3 L1158.5 1127.0 L1161.3 1125.8 L1163.6 1127.4 L1165.0 1130.7 L1166.3 1131.3 L1167.7 1138.3 L1169.0 1139.7 L1170.4 1143.9 L1172.8 1142.9 L1175.8 1145.1 L1178.8 1145.6 L1181.4 1144.3 L1182.9 1150.4 L1184.4 1150.7 L1185.9 1153.6 L1187.4 1152.8 L1189.0 1157.3 L1191.5 1153.8 L1194.2 1155.0 L1196.1 1154.7 L1197.7 1158.8 L1199.4 1159.0 L1201.1 1163.6 L1203.2 1164.1 L1205.8 1168.2 L1208.5 1166.8 L1211.3 1168.8 L1214.0 1165.1 L1216.7 1167.9 L1219.6 1164.3 L1221.8 1167.2 L1224.1 1172.2 L1226.3 1170.7 L1228.2 1173.6 L1229.5 1175.2 L1230.9 1179.1 L1232.2 1182.2 L1234.2 1186.4 L1236.1 1180.4 L1237.9 1176.4 L1239.8 1176.9 L1241.6 1176.5 L1242.1 1184.8 L1242.7 1184.4 L1243.3 1183.9 L1243.8 1183.6 L1244.4 1189.2 L1245.0 1196.4 L1247.2 1194.8 L1250.1 1197.8 L1253.1 1194.9 L1255.6 1196.8 L1257.3 1199.9 L1259.1 1206.2 L1260.8 1207.5 L1262.6 1208.9 L1264.3 1210.4 L1265.7 1209.3 L1267.1 1214.8 L1268.4 1218.7 L1269.8 1225.9 L1271.1 1227.0 L1272.5 1225.9 L1273.8 1231.5 L1275.3 1225.2 L1276.2 1224.3 L1277.1 1224.8 L1277.9 1219.5 L1278.8 1215.4 L1279.6 1210.4 L1280.8 1210.9 L1281.5 1218.5 L1282.2 1222.3 L1282.9 1225.1 L1283.6 1222.6 L1284.3 1223.3 L1285.0 1229.7 L1285.6 1235.2 L1286.3 1241.3 L1287.0 1240.3 L1287.7 1244.7 L1289.5 1241.6 L1291.5 1240.4 L1293.4 1237.4 L1295.3 1237.9 L1297.2 1231.6 L1300.0 1234.6 L1302.7 1232.8 L1305.3 1237.8 L1307.9 1238.6 L1310.4 1243.1 L1312.4 1244.9 L1313.9 1243.4 L1315.3 1246.8 L1316.8 1248.6 L1318.2 1254.8 L1319.7 1256.2 L1321.2 1259.1 L1322.9 1257.0 L1324.6 1261.8 L1326.4 1263.3 L1328.1 1270.0 L1329.9 1269.9 L1332.3 1270.7 L1335.3 1272.0 L1338.1 1269.1 L1339.3 1274.2 L1339.8 1278.6 L1340.3 1283.5 L1341.4 1281.9 L1344.2 1283.7 L1347.2 1282.2 L1350.0 1285.1 L1351.4 1287.2 L1352.5 1294.0 L1353.5 1294.5 L1354.5 1295.0 L1355.6 1294.9 L1357.0 1300.6 L1358.6 1304.9 L1360.3 1307.9 L1361.9 1312.5 L1363.6 1310.5 L1364.8 1311.4 L1366.0 1316.6 L1367.2 1320.6 L1368.4 1326.9 L1369.7 1326.1 L1372.1 1328.5 L1374.7 1326.8 L1377.3 1331.7 L1379.7 1332.3 L1381.0 1337.6 L1382.3 1337.8 L1383.7 1340.5 L1385.0 1340.9 L1386.8 1345.9 L1388.7 1347.0 L1390.6 1351.6 L1392.5 1351.1 L1394.9 1354.2 L1397.6 1352.9 L1400.1 1355.7 L1401.5 1358.9 L1402.4 1365.1 L1403.2 1366.7 L1404.1 1365.9 L1404.6 1368.7 L1405.2 1371.5 L1405.8 1379.1 L1406.4 1382.7 L1407.0 1385.9 L1407.7 1384.6 L1409.5 1387.2 L1412.2 1383.8 L1414.9 1386.2 L1416.9 1386.8 L1418.1 1390.5 L1419.3 1389.5 L1420.6 1388.8 L1421.8 1394.5 L1422.7 1399.3 L1423.4 1406.1 L1424.1 1405.7 L1424.9 1406.8 L1425.6 1407.0 L1426.8 1414.1 L1428.7 1416.6 L1430.6 1420.7 L1432.6 1419.9 L1435.6 1418.0 L1438.6 1420.1 L1440.4 1419.3 L1440.5 1426.8 L1440.7 1428.0 L1442.5 1429.9 L1445.2 1425.3 L1448.0 1423.3 L1450.7 1425.4 L1453.1 1425.9 L1455.4 1432.3 L1457.1 1434.0 L1458.6 1434.5" stroke="#000" stroke-width="12.5"/>
<path d="M286.0 1465.6 L288.2 1465.6 L299.2 1465.6 L310.2 1465.6 L321.2 1465.6 L332.2 1465.6 L343.2 1465.6 L354.2 1465.6 L365.2 1465.6 L376.2 1465.6 L387.2 1465.6 L398.2 1465.6 L409.2 1465.6 L420.2 1465.5 L431.2 1465.4 L442.2 1465.2 L453.2 1464.8 L464.2 1464.0 L475.2 1462.5 L486.2 1459.9 L497.2 1455.7 L508.2 1449.0 L519.2 1438.9 L530.2 1424.4 L541.2 1404.3 L552.2 1377.7 L563.2 1344.0 L574.2 1302.8 L585.2 1254.5 L596.2 1200.3 L607.2 1141.9 L618.2 1081.7 L629.2 1022.7 L640.2 967.9 L651.2 920.2 L662.2 882.2 L673.2 856.0 L684.2 842.8 L695.2 842.7 L706.2 855.5 L717.2 879.7 L728.2 913.5 L739.2 954.9 L750.2 1001.3 L761.2 1050.7 L772.2 1100.7 L783.2 1149.7 L794.2 1196.2 L805.2 1239.1 L816.2 1277.7 L827.2 1311.9 L838.2 1341.4 L849.2 1366.5 L860.2 1387.4 L871.2 1404.6 L882.2 1418.5 L893.2 1429.6 L904.2 1438.4 L915.2 1445.2 L926.2 1450.5 L937.2 1454.5 L948.2 1457.5 L959.2 1459.7 L970.2 1461.4 L981.2 1462.6 L992.2 1463.5 L1003.2 1464.1 L1014.2 1464.6 L1025.2 1464.9 L1036.2 1465.1 L1047.2 1465.3 L1058.2 1465.4 L1069.2 1465.4 L1080.2 1465.5 L1091.2 1465.5 L1102.2 1465.6 L1113.2 1465.6 L1124.2 1465.6 L1135.2 1465.6 L1146.2 1465.6 L1157.2 1465.6 L1168.2 1465.6 L1179.2 1465.6 L1190.2 1465.6 L1201.2 1465.6 L1212.2 1465.6 L1223.2 1465.6 L1234.2 1465.6 L1245.2 1465.6 L1256.2 1465.6 L1267.2 1465.6 L1278.2 1465.6 L1289.2 1465.6 L1300.2 1465.6 L1311.2 1465.6 L1322.2 1465.6 L1333.2 1465.6 L1344.2 1465.6 L1355.2 1465.6 L1366.2 1465.6 L1377.2 1465.6 L1388.2 1465.6 L1399.2 1465.6 L1410.2 1465.6 L1421.2 1465.6 L1432.2 1465.6 L1443.2 1465.6 L1454.2 1465.6 L1465.2 1465.6 L1476.2 1465.6 L1477.0 1465.6" stroke="#828282" stroke-width="5.5"/>
<path d="M286.0 1465.6 L290.7 1465.6 L301.7 1465.6 L312.7 1465.6 L323.7 1465.6 L334.7 1465.6 L345.7 1465.6 L356.7 1465.6 L367.7 1465.6 L378.7 1465.6 L389.7 1465.6 L400.7 1465.6 L411.7 1465.6 L422.7 1465.6 L433.7 1465.6 L444.7 1465.6 L455.7 1465.6 L466.7 1465.6 L477.7 1465.6 L488.7 1465.6 L499.7 1465.6 L510.7 1465.6 L521.7 1465.6 L532.7 1465.6 L543.7 1465.6 L554.7 1465.6 L565.7 1465.5 L576.7 1465.5 L587.7 1465.3 L598.7 1465.1 L609.7 1464.7 L620.7 1464.0 L631.7 1462.9 L642.7 1461.2 L653.7 1458.6 L664.7 1454.8 L675.7 1449.4 L686.7 1441.9 L697.7 1431.9 L708.7 1418.9 L719.7 1402.5 L730.7 1382.1 L741.7 1357.7 L752.7 1329.2 L763.7 1296.7 L774.7 1260.6 L785.7 1221.6 L796.7 1180.6 L807.7 1138.6 L818.7 1097.1 L829.7 1057.2 L840.7 1020.3 L851.7 987.6 L862.7 960.3 L873.7 939.2 L884.7 924.9 L895.7 917.7 L906.7 917.7 L917.7 924.6 L928.7 937.9 L939.7 957.0 L950.7 980.9 L961.7 1008.7 L972.7 1039.5 L983.7 1072.3 L994.7 1106.2 L1005.7 1140.2 L1016.7 1173.7 L1027.7 1206.1 L1038.7 1236.9 L1049.7 1265.7 L1060.7 1292.2 L1071.7 1316.4 L1082.7 1338.1 L1093.7 1357.5 L1104.7 1374.5 L1115.7 1389.4 L1126.7 1402.2 L1137.7 1413.2 L1148.7 1422.6 L1159.7 1430.5 L1170.7 1437.1 L1181.7 1442.6 L1192.7 1447.1 L1203.7 1450.8 L1214.7 1453.8 L1225.7 1456.3 L1236.7 1458.2 L1247.7 1459.8 L1258.7 1461.1 L1269.7 1462.1 L1280.7 1462.9 L1291.7 1463.5 L1302.7 1464.0 L1313.7 1464.3 L1324.7 1464.6 L1335.7 1464.9 L1346.7 1465.0 L1357.7 1465.2 L1368.7 1465.3 L1379.7 1465.4 L1390.7 1465.4 L1401.7 1465.5 L1412.7 1465.5 L1423.7 1465.5 L1434.7 1465.5 L1445.7 1465.6 L1456.7 1465.6 L1467.7 1465.6 L1477.0 1465.6" stroke="#828282" stroke-width="5.5"/>
<path d="M286.0 1465.6 L291.5 1465.6 L303.5 1465.6 L315.5 1465.6 L327.5 1465.6 L339.5 1465.6 L351.5 1465.6 L363.5 1465.6 L375.5 1465.6 L387.5 1465.6 L399.5 1465.6 L411.5 1465.6 L423.5 1465.5 L435.5 1465.5 L447.5 1465.5 L459.5 1465.4 L471.5 1465.3 L483.5 1465.1 L495.5 1464.9 L507.5 1464.7 L519.5 1464.3 L531.5 1463.9 L543.5 1463.2 L555.5 1462.5 L567.5 1461.5 L579.5 1460.3 L591.5 1458.8 L603.5 1456.9 L615.5 1454.7 L627.5 1452.2 L639.5 1449.1 L651.5 1445.6 L663.5 1441.5 L675.5 1436.9 L687.5 1431.7 L699.5 1425.9 L711.5 1419.5 L723.5 1412.5 L735.5 1404.9 L747.5 1396.7 L759.5 1387.9 L771.5 1378.7 L783.5 1368.9 L795.5 1358.8 L807.5 1348.3 L819.5 1337.5 L831.5 1326.5 L843.5 1315.5 L855.5 1304.3 L867.5 1293.3 L879.5 1282.4 L891.5 1271.7 L903.5 1261.3 L915.5 1251.3 L927.5 1241.8 L939.5 1232.8 L951.5 1224.5 L963.5 1216.7 L975.5 1209.7 L987.5 1203.4 L999.5 1197.8 L1011.5 1193.1 L1023.5 1189.1 L1035.5 1186.0 L1047.5 1183.7 L1059.5 1182.1 L1071.5 1181.4 L1083.5 1181.4 L1095.5 1182.1 L1107.5 1183.5 L1119.5 1185.6 L1131.5 1188.4 L1143.5 1191.7 L1155.5 1195.5 L1167.5 1199.9 L1179.5 1204.7 L1191.5 1210.0 L1203.5 1215.5 L1215.5 1221.5 L1227.5 1227.6 L1239.5 1234.1 L1251.5 1240.7 L1263.5 1247.5 L1275.5 1254.3 L1287.5 1261.3 L1299.5 1268.3 L1311.5 1275.4 L1323.5 1282.4 L1335.5 1289.4 L1347.5 1296.3 L1359.5 1303.1 L1371.5 1309.9 L1383.5 1316.5 L1395.5 1323.0 L1407.5 1329.3 L1419.5 1335.5 L1431.5 1341.5 L1443.5 1347.4 L1455.5 1353.1 L1467.5 1358.6 L1477.0 1362.7" stroke="#828282" stroke-width="5.5"/>
<path d="M286.0 1465.6 L295.3 1465.6 L306.3 1465.6 L317.3 1465.6 L328.3 1465.6 L339.3 1465.6 L350.3 1465.6 L361.3 1465.6 L372.3 1465.6 L383.3 1465.6 L394.3 1465.6 L405.3 1465.6 L416.3 1465.6 L427.3 1465.6 L438.3 1465.6 L449.3 1465.6 L460.3 1465.6 L471.3 1465.6 L482.3 1465.6 L493.3 1465.6 L504.3 1465.6 L515.3 1465.6 L526.3 1465.6 L537.3 1465.6 L548.3 1465.6 L559.3 1465.6 L570.3 1465.6 L581.3 1465.6 L592.3 1465.6 L603.3 1465.6 L614.3 1465.6 L625.3 1465.6 L636.3 1465.6 L647.3 1465.6 L658.3 1465.6 L669.3 1465.6 L680.3 1465.6 L691.3 1465.6 L702.3 1465.6 L713.3 1465.6 L724.3 1465.6 L735.3 1465.6 L746.3 1465.6 L757.3 1465.6 L768.3 1465.6 L779.3 1465.6 L790.3 1465.6 L801.3 1465.6 L812.3 1465.6 L823.3 1465.6 L834.3 1465.6 L845.3 1465.6 L856.3 1465.6 L867.3 1465.6 L878.3 1465.6 L889.3 1465.6 L900.3 1465.6 L911.3 1465.6 L922.3 1465.6 L933.3 1465.6 L944.3 1465.6 L955.3 1465.5 L966.3 1465.2 L977.3 1464.7 L988.3 1463.6 L999.3 1461.3 L1010.3 1457.2 L1021.3 1450.0 L1032.3 1438.5 L1043.3 1421.3 L1054.3 1397.3 L1065.3 1366.1 L1076.3 1328.6 L1087.3 1286.7 L1098.3 1243.9 L1109.3 1204.3 L1120.3 1172.3 L1131.3 1151.6 L1142.3 1144.5 L1153.3 1150.9 L1164.3 1169.4 L1175.3 1197.3 L1186.3 1231.6 L1197.3 1268.7 L1208.3 1305.7 L1219.3 1340.1 L1230.3 1370.3 L1241.3 1395.5 L1252.3 1415.6 L1263.3 1431.0 L1274.3 1442.4 L1285.3 1450.4 L1296.3 1456.0 L1307.3 1459.6 L1318.3 1462.0 L1329.3 1463.5 L1340.3 1464.4 L1351.3 1464.9 L1362.3 1465.2 L1373.3 1465.4 L1384.3 1465.5 L1395.3 1465.5 L1406.3 1465.6 L1417.3 1465.6 L1428.3 1465.6 L1439.3 1465.6 L1450.3 1465.6 L1461.3 1465.6 L1472.3 1465.6 L1477.0 1465.6" stroke="#0000ff" stroke-width="19"/>
</g>
<g stroke="#0000ff" fill="#0000ff" stroke-linejoin="round" stroke-linecap="round">
<path d="M1138.9 432.3 V552" stroke-width="12.8" fill="none"/>
<path d="M1122.4 549.7 H1155.4 L1138.9 613.5 Z" stroke-width="10"/>
</g>
<g stroke="#000" stroke-width="9.4" fill="none" stroke-linecap="round" stroke-linejoin="miter">
<rect x="275.0" y="197.7" width="1226.6" height="1280.9" stroke-linejoin="round"/>
<path d="M346.8 1476.6 V1453.9 M779.8 1476.6 V1453.9 M1212.8 1476.6 V1453.9 M563.3 1476.6 V1465.4 M996.3 1476.6 V1465.4 M1429.3 1476.6 V1465.4 M326.0 199.7 V222.4 M539.0 199.7 V222.4 M837.3 199.7 V222.4 M1284.7 199.7 V222.4 M424.3 199.7 V210.9 M674.6 199.7 V210.9 M1036.1 199.7 V210.9 M277.0 1465.6 H299.7 M277.0 1181.7 H299.7 M277.0 897.9 H299.7 M277.0 614.0 H299.7 M277.0 330.2 H299.7 M277.0 1323.7 H288.2 M277.0 1039.8 H288.2 M277.0 755.9 H288.2 M277.0 472.1 H288.2"/>
</g>
<g font-family="Liberation Sans, sans-serif" font-size="84" fill="#000">
<text transform="translate(346.8 1575.5) scale(1 1.035)" text-anchor="middle">900</text>
<text transform="translate(779.8 1575.5) scale(1 1.035)" text-anchor="middle">1200</text>
<text transform="translate(1212.8 1575.5) scale(1 1.035)" text-anchor="middle">1500</text>
<text transform="translate(326.0 175.5) scale(1 1.035)" text-anchor="middle">1.4</text>
<text transform="translate(539.0 175.5) scale(1 1.035)" text-anchor="middle">1.2</text>
<text transform="translate(837.3 175.5) scale(1 1.035)" text-anchor="middle">1</text>
<text transform="translate(1284.7 175.5) scale(1 1.035)" text-anchor="middle">0.8</text>
<text transform="translate(248.5 1488.9) scale(1 1.035)" text-anchor="end">0.0</text>
<text transform="translate(248.5 1205.0) scale(1 1.035)" text-anchor="end">0.3</text>
<text transform="translate(248.5 921.2) scale(1 1.035)" text-anchor="end">0.6</text>
<text transform="translate(248.5 637.3) scale(1 1.035)" text-anchor="end">0.9</text>
<text transform="translate(248.5 353.5) scale(1 1.035)" text-anchor="end">1.2</text>
<text transform="translate(924.0 84.5) scale(1 1.035)" text-anchor="middle">Energy (eV)</text>
<text transform="translate(769.5 1649.0) scale(1 1.035)" text-anchor="start"><tspan font-family="Liberation Serif, serif" font-size="74" textLength="42" lengthAdjust="spacingAndGlyphs">λ</tspan><tspan dx="-0.6"> (nm)</tspan></text>
<text transform="translate(77.0 838.5) rotate(-90) scale(1 1.035)" text-anchor="middle">PL (arb. units)</text>
<text transform="translate(1398.0 334.0) scale(1 1.035)" text-anchor="middle">5K</text>
<text transform="translate(529.0 914.0) scale(1 1.035)" text-anchor="middle" font-weight="bold" font-size="80">C</text>
<text transform="translate(1333.0 896.5) scale(1 1.035)" text-anchor="middle" font-weight="bold" font-size="80" fill="#f00400">D</text>
</g>
</g>
</svg>
</body></html>
